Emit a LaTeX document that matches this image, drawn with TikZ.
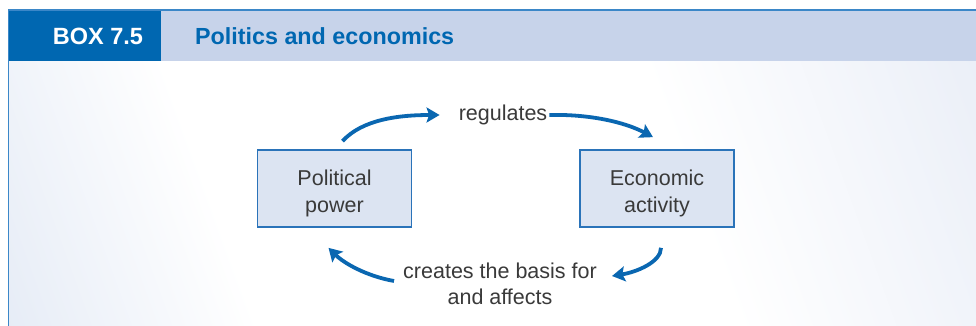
\documentclass[tikz,border=0pt]{standalone}
\usepackage{fontspec}
\setmainfont{Liberation Sans}
\usetikzlibrary{arrows.meta}
\definecolor{dkblue}{HTML}{0067B1}
\definecolor{hdrblue}{HTML}{C7D3EA}
\definecolor{linblue}{HTML}{3B87C8}
\definecolor{boxfill}{HTML}{DCE4F2}
\definecolor{boxline}{HTML}{2A73B9}
\definecolor{arrblue}{HTML}{0A67B1}
\definecolor{txtgray}{HTML}{3A3A3A}
\definecolor{bgblueA}{HTML}{C9D6EC}
\definecolor{bgblueB}{HTML}{D9E1F1}
\pgfdeclarehorizontalshading{bgsh}{100bp}{color(0bp)=(bgblueA); color(33bp)=(white); color(62bp)=(white); color(100bp)=(bgblueB)}
\tikzset{
  stepbox/.style={draw=boxline, line width=1.7pt, fill=boxfill, minimum width=154pt, minimum height=77pt,
    align=center, text=txtgray, font=\fontsize{21.5}{27}\selectfont},
  lbl/.style={inner sep=0pt, text=txtgray, align=center, font=\fontsize{21.5}{26}\selectfont},
  arr/.style={draw=arrblue, line width=3.8pt, -{Stealth[length=13pt,width=15pt,inset=2.5pt]}},
}
\begin{document}
\begin{tikzpicture}[x=1pt,y=-1pt]
\useasboundingbox (0,0) rectangle (976,326);
% body background
\shade[shading=bgsh, shading angle=20] (8,61) rectangle (976,326);
% header
\fill[hdrblue] (161,10) rectangle (976,61);
\fill[dkblue] (8,10) rectangle (161,61);
\draw[linblue, line width=1.2pt] (8,10) -- (976,10);
\draw[linblue, line width=0.8pt] (8,10) -- (8,326);
\node[text=white, font=\fontsize{23.5}{28}\selectfont\bfseries] (boxno) at (98,36) {BOX 7.5};
\node[anchor=west, inner sep=0pt, text=dkblue, font=\fontsize{23.3}{28}\selectfont\bfseries] (title) at (195,36) {Politics and economics};
% nodes
\node[stepbox] (pp) at (334.5,188.5) {\rule{0pt}{26pt}Political\\power};
\node[stepbox] (ea) at (657,188.5) {\rule{0pt}{26pt}Economic\\activity};
\node[lbl] (reg) at (503,115) {regulates};
\node[lbl] (cb) at (500,284) {creates the basis for\\and affects};
% arrows
\draw[arr] ([shift={(8,-8)}]pp.north) .. controls +(20,-22) and +(-40,0) .. ([xshift=-19pt]reg.west);
\draw[arr] ([xshift=2pt]reg.east) .. controls +(40,-1) and +(-28,-15) .. ([shift={(-4,-12)}]ea.north);
\draw[arr] ([shift={(4,20)}]ea.south) .. controls +(0,14) and +(25,-4) .. ([shift={(15,-8)}]cb.east);
\draw[arr] ([shift={(-9,-3)}]cb.west) .. controls +(-28,-5) and +(15,15) .. ([shift={(-6,20)}]pp.south);
\end{tikzpicture}
\end{document}
